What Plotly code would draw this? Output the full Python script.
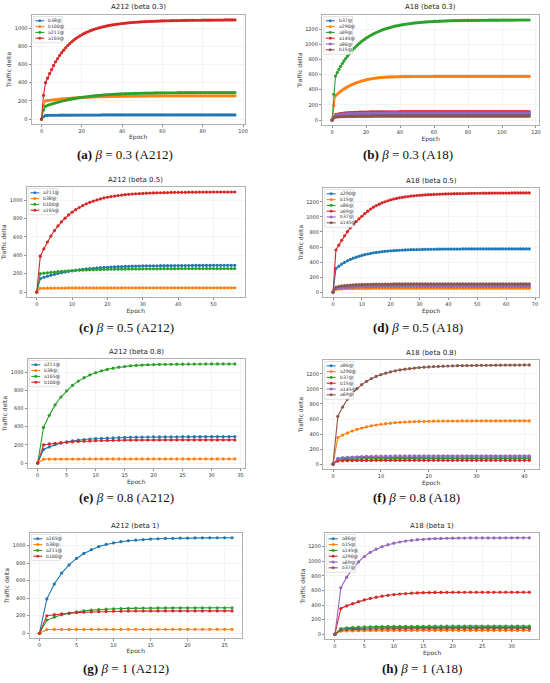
import plotly.graph_objects as go

W, H = 550, 683
COLORS = ['#1f77b4', '#ff7f0e', '#2ca02c', '#d62728', '#9467bd', '#8c564b']

# ---------------- Panel (a): A212, beta 0.3 ----------------
a_b38 = [0, 25, 40, 41, 41, 42, 42, 42, 42, 43,
         43, 43, 43, 43, 43, 43, 44, 44, 44, 44,
         44, 44, 44, 44, 44, 44, 44, 44, 44, 44,
         45, 45, 45, 45, 45, 45, 45, 45, 45, 45,
         45, 45, 45, 45, 45, 45, 45, 45, 45, 45,
         45, 45, 45, 45, 45, 45, 45, 45, 45, 45,
         45, 45, 45, 45, 45, 45, 45, 45, 45, 45,
         45, 45, 45, 45, 45, 45, 45, 45, 45, 45,
         45, 45, 45, 45, 45, 45, 45, 45, 45, 45,
         45, 45, 45, 45, 45, 45, 45]
a_b100 = [0, 150, 200, 203, 206, 209, 212, 214, 217, 219,
          221, 223, 225, 227, 229, 230, 232, 233, 235, 236,
          237, 238, 239, 240, 241, 242, 243, 244, 244, 245,
          246, 246, 247, 247, 248, 248, 249, 249, 250, 250,
          250, 251, 251, 251, 252, 252, 252, 252, 253, 253,
          253, 253, 253, 254, 254, 254, 254, 254, 254, 254,
          255, 255, 255, 255, 255, 255, 255, 255, 255, 255,
          255, 255, 255, 255, 255, 255, 255, 255, 255, 255,
          255, 255, 255, 255, 255, 255, 255, 255, 255, 255,
          255, 255, 255, 255, 255, 255, 255]
a_a211 = [0, 100, 140, 150, 158, 165, 172, 178, 184, 190,
          196, 201, 206, 211, 216, 220, 224, 228, 232, 236,
          239, 242, 245, 248, 251, 253, 256, 258, 260, 262,
          264, 266, 267, 269, 270, 272, 273, 274, 275, 276,
          277, 278, 279, 280, 281, 281, 282, 283, 283, 284,
          284, 285, 285, 286, 286, 286, 287, 287, 287, 288,
          288, 288, 288, 289, 289, 289, 289, 289, 290, 290,
          290, 290, 290, 290, 290, 290, 290, 290, 291, 291,
          291, 291, 291, 291, 291, 291, 291, 291, 291, 291,
          291, 291, 291, 291, 291, 291, 291]
a_a165 = [0, 260, 400, 450, 500, 545, 590, 630, 665, 700,
          730, 758, 784, 808, 830, 850, 868, 885, 900, 914,
          927, 939, 950, 960, 969, 978, 986, 993, 1000, 1006,
          1012, 1017, 1022, 1027, 1031, 1035, 1039, 1042, 1045, 1048,
          1051, 1053, 1056, 1058, 1060, 1062, 1064, 1065, 1067, 1068,
          1070, 1071, 1072, 1073, 1074, 1075, 1076, 1077, 1078, 1079,
          1079, 1080, 1081, 1081, 1082, 1082, 1083, 1083, 1084, 1084,
          1085, 1085, 1085, 1086, 1086, 1086, 1087, 1087, 1087, 1087,
          1088, 1088, 1088, 1088, 1088, 1089, 1089, 1089, 1089, 1089,
          1089, 1090, 1090, 1090, 1090, 1090, 1090]

# ---------------- Panel (b): A18, beta 0.3 ----------------
b_b37 = [0, 30, 52, 56, 59, 61, 63, 65, 66, 67,
         68, 69, 69, 70, 70, 71, 71, 72, 72, 72,
         73, 73, 73, 73, 74, 74, 74, 74, 74, 74,
         74, 74, 75, 75, 75, 75, 75, 75, 75, 75,
         75, 75, 75, 75, 75, 75, 75, 75, 75, 75,
         75, 75, 75, 75, 75, 75, 75, 75, 75, 75,
         75, 75, 75, 75, 75, 75, 75, 75, 75, 75,
         75, 75, 75, 75, 75, 75, 75, 75, 75, 75,
         75, 75, 75, 75, 75, 75, 75, 75, 75, 75,
         75, 75, 75, 75, 75, 75, 75, 75, 75, 75,
         75, 75, 75, 75, 75, 75, 75, 75, 75, 75,
         75, 75, 75, 75, 75, 75, 75]
b_a290 = [0, 190, 320, 340, 360, 378, 395, 410, 424, 437,
          449, 460, 470, 480, 489, 497, 505, 512, 518, 524,
          530, 535, 540, 544, 548, 551, 554, 557, 559, 561,
          563, 565, 566, 567, 568, 569, 570, 570, 571, 571,
          572, 572, 572, 573, 573, 573, 573, 574, 574, 574,
          574, 574, 574, 574, 574, 574, 574, 574, 574, 574,
          575, 575, 575, 575, 575, 575, 575, 575, 575, 575,
          575, 575, 575, 575, 575, 575, 575, 575, 575, 575,
          575, 575, 575, 575, 575, 575, 575, 575, 575, 575,
          575, 575, 575, 575, 575, 575, 575, 575, 575, 575,
          575, 575, 575, 575, 575, 575, 575, 575, 575, 575,
          575, 575, 575, 575, 575, 575, 575]
b_a69 = [0, 340, 580, 625, 668, 708, 746, 780, 812, 842,
         870, 897, 923, 947, 970, 991, 1011, 1030, 1048, 1064,
         1080, 1095, 1108, 1121, 1133, 1145, 1155, 1165, 1175, 1184,
         1192, 1200, 1207, 1214, 1220, 1226, 1232, 1238, 1243, 1247,
         1252, 1256, 1260, 1264, 1267, 1270, 1273, 1276, 1279, 1281,
         1284, 1286, 1288, 1290, 1292, 1294, 1295, 1297, 1298, 1299,
         1301, 1302, 1303, 1304, 1305, 1306, 1307, 1308, 1309, 1309,
         1310, 1311, 1311, 1312, 1312, 1313, 1313, 1314, 1314, 1314,
         1315, 1315, 1315, 1316, 1316, 1316, 1316, 1317, 1317, 1317,
         1317, 1317, 1318, 1318, 1318, 1318, 1318, 1318, 1318, 1319,
         1319, 1319, 1319, 1319, 1319, 1319, 1319, 1319, 1319, 1320,
         1320, 1320, 1320, 1320, 1320, 1320, 1320]
b_a145 = [0, 40, 70, 76, 81, 85, 88, 91, 93, 95,
          97, 98, 99, 100, 101, 102, 103, 103, 104, 104,
          105, 105, 106, 106, 106, 107, 107, 107, 107, 108,
          108, 108, 108, 108, 109, 109, 109, 109, 109, 109,
          110, 110, 110, 110, 110, 110, 110, 110, 110, 110,
          110, 110, 110, 110, 110, 110, 110, 110, 110, 110,
          110, 110, 110, 110, 110, 110, 110, 110, 110, 110,
          110, 110, 110, 110, 110, 110, 110, 110, 110, 110,
          110, 110, 110, 110, 110, 110, 110, 110, 110, 110,
          110, 110, 110, 110, 110, 110, 110, 110, 110, 110,
          110, 110, 110, 110, 110, 110, 110, 110, 110, 110,
          110, 110, 110, 110, 110, 110, 110]
b_a86 = [0, 35, 62, 67, 71, 74, 77, 79, 81, 83,
         84, 85, 86, 87, 87, 88, 88, 89, 89, 90,
         90, 90, 91, 91, 91, 91, 92, 92, 92, 92,
         92, 92, 92, 93, 93, 93, 93, 93, 93, 93,
         93, 93, 93, 93, 93, 93, 93, 93, 93, 93,
         93, 93, 93, 93, 93, 93, 93, 93, 93, 93,
         93, 93, 93, 93, 93, 93, 93, 93, 93, 93,
         93, 93, 93, 93, 93, 93, 93, 93, 93, 93,
         93, 93, 93, 93, 93, 93, 93, 93, 93, 93,
         93, 93, 93, 93, 93, 93, 93, 93, 93, 93,
         93, 93, 93, 93, 93, 93, 93, 93, 93, 93,
         93, 93, 93, 93, 93, 93, 93]
b_b15 = [0, 25, 38, 40, 42, 43, 44, 45, 45, 46,
         46, 47, 47, 47, 48, 48, 48, 48, 49, 49,
         49, 49, 49, 49, 49, 50, 50, 50, 50, 50,
         50, 50, 50, 50, 50, 50, 50, 50, 50, 50,
         50, 50, 50, 50, 50, 50, 50, 50, 50, 50,
         50, 50, 50, 50, 50, 50, 50, 50, 50, 50,
         50, 50, 50, 50, 50, 50, 50, 50, 50, 50,
         50, 50, 50, 50, 50, 50, 50, 50, 50, 50,
         50, 50, 50, 50, 50, 50, 50, 50, 50, 50,
         50, 50, 50, 50, 50, 50, 50, 50, 50, 50,
         50, 50, 50, 50, 50, 50, 50, 50, 50, 50,
         50, 50, 50, 50, 50, 50, 50]

# ---------------- Panel (c): A212, beta 0.5 ----------------
c_a211 = [0, 145, 160, 172, 183, 193, 202, 210, 218, 225,
          231, 237, 242, 247, 251, 255, 259, 262, 265, 268,
          270, 272, 274, 276, 277, 279, 280, 281, 282, 283,
          284, 285, 285, 286, 286, 287, 287, 288, 288, 288,
          289, 289, 289, 289, 290, 290, 290, 290, 290, 290,
          291, 291, 291, 291, 291, 291, 291]
c_b38 = [0, 40, 41, 42, 42, 43, 43, 43, 43, 44,
         44, 44, 44, 44, 44, 44, 44, 44, 44, 44,
         44, 44, 44, 44, 44, 45, 45, 45, 45, 45,
         45, 45, 45, 45, 45, 45, 45, 45, 45, 45,
         45, 45, 45, 45, 45, 45, 45, 45, 45, 45,
         45, 45, 45, 45, 45, 45, 45]
c_b100 = [0, 200, 205, 210, 214, 218, 222, 225, 228, 231,
          233, 235, 237, 239, 240, 242, 243, 244, 245, 246,
          247, 248, 248, 249, 250, 250, 251, 251, 252, 252,
          252, 253, 253, 253, 253, 254, 254, 254, 254, 254,
          254, 255, 255, 255, 255, 255, 255, 255, 255, 255,
          255, 255, 255, 255, 255, 255, 255]
c_a165 = [0, 390, 470, 545, 610, 670, 720, 765, 805, 840,
          870, 897, 921, 942, 961, 977, 991, 1004, 1015, 1025,
          1033, 1040, 1046, 1052, 1057, 1061, 1065, 1068, 1071, 1073,
          1075, 1077, 1079, 1080, 1081, 1082, 1083, 1084, 1085, 1086,
          1086, 1087, 1087, 1088, 1088, 1088, 1089, 1089, 1089, 1089,
          1090, 1090, 1090, 1090, 1090, 1090, 1090]

# ---------------- Panel (d): A18, beta 0.5 ----------------
d_a290 = [0, 315, 345, 372, 396, 417, 435, 451, 465, 477,
          488, 498, 507, 515, 522, 528, 533, 538, 542, 546,
          549, 552, 555, 557, 559, 561, 562, 564, 565, 566,
          567, 568, 569, 569, 570, 570, 571, 571, 572, 572,
          572, 573, 573, 573, 573, 574, 574, 574, 574, 574,
          574, 574, 575, 575, 575, 575, 575, 575, 575, 575,
          575, 575, 575, 575, 575, 575, 575, 575, 575]
d_b15 = [0, 35, 40, 42, 44, 45, 46, 46, 47, 47,
         48, 48, 48, 48, 49, 49, 49, 49, 49, 49,
         50, 50, 50, 50, 50, 50, 50, 50, 50, 50,
         50, 50, 50, 50, 50, 50, 50, 50, 50, 50,
         50, 50, 50, 50, 50, 50, 50, 50, 50, 50,
         50, 50, 50, 50, 50, 50, 50, 50, 50, 50,
         50, 50, 50, 50, 50, 50, 50, 50, 50]
d_a86 = [0, 55, 64, 69, 73, 77, 80, 82, 84, 85,
         86, 87, 88, 89, 89, 90, 90, 91, 91, 91,
         92, 92, 92, 92, 92, 93, 93, 93, 93, 93,
         93, 93, 93, 93, 93, 93, 93, 93, 93, 93,
         93, 93, 93, 93, 93, 93, 93, 93, 93, 93,
         93, 93, 93, 93, 93, 93, 93, 93, 93, 93,
         93, 93, 93, 93, 93, 93, 93, 93, 93]
d_a69 = [0, 560, 625, 690, 750, 805, 855, 900, 940, 975,
         1010, 1045, 1077, 1105, 1130, 1152, 1171, 1188, 1203, 1216,
         1228, 1238, 1247, 1255, 1262, 1268, 1273, 1278, 1282, 1286,
         1289, 1292, 1295, 1297, 1299, 1301, 1303, 1304, 1306, 1307,
         1308, 1309, 1310, 1311, 1312, 1313, 1313, 1314, 1315, 1315,
         1316, 1316, 1317, 1317, 1317, 1318, 1318, 1318, 1319, 1319,
         1319, 1319, 1320, 1320, 1320, 1320, 1320, 1320, 1320]
d_b37 = [0, 45, 52, 56, 59, 62, 64, 66, 67, 68,
         69, 70, 70, 71, 71, 72, 72, 72, 73, 73,
         73, 73, 74, 74, 74, 74, 74, 74, 75, 75,
         75, 75, 75, 75, 75, 75, 75, 75, 75, 75,
         75, 75, 75, 75, 75, 75, 75, 75, 75, 75,
         75, 75, 75, 75, 75, 75, 75, 75, 75, 75,
         75, 75, 75, 75, 75, 75, 75, 75, 75]
d_a145 = [0, 65, 75, 81, 86, 90, 93, 96, 98, 100,
          101, 102, 103, 104, 105, 105, 106, 106, 107, 107,
          107, 108, 108, 108, 108, 109, 109, 109, 109, 109,
          109, 109, 110, 110, 110, 110, 110, 110, 110, 110,
          110, 110, 110, 110, 110, 110, 110, 110, 110, 110,
          110, 110, 110, 110, 110, 110, 110, 110, 110, 110,
          110, 110, 110, 110, 110, 110, 110, 110, 110]

# ---------------- Panel (e): A212, beta 0.8 ----------------
e_a211 = [0, 150, 178, 203, 220, 233, 244, 252, 259, 264,
          268, 272, 275, 278, 280, 282, 284, 285, 286, 287,
          288, 288, 289, 289, 289, 290, 290, 290, 290, 290,
          291, 291, 291, 291, 291]
e_b38 = [0, 42, 43, 43, 44, 44, 44, 44, 45, 45,
         45, 45, 45, 45, 45, 45, 45, 45, 45, 45,
         45, 45, 45, 45, 45, 45, 45, 45, 45, 45,
         45, 45, 45, 45, 45]
e_a165 = [0, 392, 525, 640, 727, 795, 855, 902, 940, 970,
          995, 1015, 1031, 1044, 1055, 1063, 1070, 1075, 1079, 1082,
          1084, 1086, 1087, 1088, 1089, 1089, 1090, 1090, 1090, 1091,
          1091, 1091, 1091, 1091, 1091]
e_b100 = [0, 200, 210, 218, 224, 229, 234, 238, 241, 244,
          246, 248, 249, 250, 251, 252, 253, 253, 254, 254,
          254, 255, 255, 255, 255, 255, 255, 255, 255, 255,
          255, 255, 255, 255, 255]

# ---------------- Panel (f): A18, beta 0.8 ----------------
f_a86 = [0, 65, 73, 78, 81, 84, 86, 87, 88, 89,
         90, 90, 91, 91, 91, 92, 92, 92, 92, 92,
         93, 93, 93, 93, 93, 93, 93, 93, 93, 93,
         93, 93, 93, 93, 93, 93, 93, 93, 93, 93,
         93, 93]
f_a290 = [0, 352, 386, 415, 440, 462, 480, 496, 509, 520,
          530, 538, 545, 551, 556, 560, 563, 566, 568, 569,
          570, 571, 572, 572, 573, 573, 573, 574, 574, 574,
          574, 574, 575, 575, 575, 575, 575, 575, 575, 575,
          575, 575]
f_b37 = [0, 52, 59, 63, 66, 68, 69, 70, 71, 72,
         72, 73, 73, 73, 74, 74, 74, 74, 74, 74,
         75, 75, 75, 75, 75, 75, 75, 75, 75, 75,
         75, 75, 75, 75, 75, 75, 75, 75, 75, 75,
         75, 75]
f_b15 = [0, 40, 43, 45, 46, 47, 48, 48, 48, 49,
         49, 49, 49, 49, 49, 50, 50, 50, 50, 50,
         50, 50, 50, 50, 50, 50, 50, 50, 50, 50,
         50, 50, 50, 50, 50, 50, 50, 50, 50, 50,
         50, 50]
f_a145 = [0, 75, 85, 90, 94, 97, 100, 102, 104, 105,
          106, 107, 107, 108, 108, 108, 109, 109, 109, 109,
          109, 110, 110, 110, 110, 110, 110, 110, 110, 110,
          110, 110, 110, 110, 110, 110, 110, 110, 110, 110,
          110, 110]
f_a69 = [0, 635, 760, 862, 942, 1005, 1058, 1102, 1138, 1167,
         1191, 1211, 1228, 1242, 1254, 1264, 1272, 1279, 1285, 1290,
         1294, 1298, 1301, 1304, 1306, 1308, 1310, 1311, 1312, 1313,
         1314, 1315, 1316, 1316, 1317, 1317, 1318, 1318, 1319, 1319,
         1320, 1320]

# ---------------- Panel (g): A212, beta 1 ----------------
g_a165 = [0, 392, 562, 687, 781, 855, 912, 955, 990, 1015,
          1032, 1046, 1057, 1065, 1071, 1076, 1080, 1083, 1085, 1087,
          1088, 1089, 1090, 1090, 1091, 1091, 1091]
g_b38 = [0, 42, 43, 43, 44, 44, 44, 45, 45, 45,
         45, 45, 45, 45, 45, 45, 45, 45, 45, 45,
         45, 45, 45, 45, 45, 45, 45]
g_a211 = [0, 150, 183, 210, 228, 243, 255, 264, 270, 275,
          279, 282, 284, 286, 287, 288, 289, 289, 290, 290,
          290, 290, 291, 291, 291, 291, 291]
g_b100 = [0, 200, 212, 222, 230, 236, 240, 244, 247, 249,
          251, 252, 253, 254, 254, 255, 255, 255, 255, 255,
          255, 255, 255, 255, 255, 255, 255]

# ---------------- Panel (h): A18, beta 1 ----------------
h_a86 = [0, 68, 76, 80, 83, 86, 87, 88, 89, 90,
         91, 91, 92, 92, 92, 93, 93, 93, 93, 93,
         93, 93, 93, 93, 93, 93, 93, 93, 93, 93,
         93, 93, 93, 93]
h_b15 = [0, 42, 45, 46, 47, 48, 49, 49, 49, 50,
         50, 50, 50, 50, 50, 50, 50, 50, 50, 50,
         50, 50, 50, 50, 50, 50, 50, 50, 50, 50,
         50, 50, 50, 50]
h_a145 = [0, 78, 88, 93, 97, 100, 102, 104, 105, 106,
          107, 108, 108, 109, 109, 109, 110, 110, 110, 110,
          110, 110, 110, 110, 110, 110, 110, 110, 110, 110,
          110, 110, 110, 110]
h_a290 = [0, 352, 388, 418, 446, 470, 490, 507, 521, 533,
          543, 551, 557, 562, 566, 569, 571, 572, 573, 574,
          574, 575, 575, 575, 575, 575, 575, 575, 575, 575,
          575, 575, 575, 575]
h_a69 = [0, 636, 782, 895, 990, 1065, 1122, 1166, 1200, 1227,
         1248, 1264, 1277, 1287, 1295, 1301, 1306, 1310, 1313, 1315,
         1316, 1317, 1318, 1319, 1319, 1320, 1320, 1320, 1320, 1321,
         1321, 1321, 1321, 1321]
h_b37 = [0, 55, 61, 65, 68, 70, 71, 72, 73, 73,
         74, 74, 74, 75, 75, 75, 75, 75, 75, 75,
         75, 75, 75, 75, 75, 75, 75, 75, 75, 75,
         75, 75, 75, 75]

# ---------------- Panel definitions ----------------
titles = ['A212 (beta 0.3)', 'A18 (beta 0.3)', 'A212 (beta 0.5)', 'A18 (beta 0.5)',
          'A212 (beta 0.8)', 'A18 (beta 0.8)', 'A212 (beta 1)', 'A18 (beta 1)']
captions = ['<b>(a)</b> <i>β</i> = 0.3 (A212)', '<b>(b)</b> <i>β</i> = 0.3 (A18)',
            '<b>(c)</b> <i>β</i> = 0.5 (A212)', '<b>(d)</b> <i>β</i> = 0.5 (A18)',
            '<b>(e)</b> <i>β</i> = 0.8 (A212)', '<b>(f)</b> <i>β</i> = 0.8 (A18)',
            '<b>(g)</b> <i>β</i> = 1 (A212)', '<b>(h)</b> <i>β</i> = 1 (A18)']
legend_names = [
    ['b38@', 'b100@', 'a211@', 'a165@'],
    ['b37@', 'a290@', 'a69@', 'a145@', 'a86@', 'b15@'],
    ['a211@', 'b38@', 'b100@', 'a165@'],
    ['a290@', 'b15@', 'a86@', 'a69@', 'b37@', 'a145@'],
    ['a211@', 'b38@', 'a165@', 'b100@'],
    ['a86@', 'a290@', 'b37@', 'b15@', 'a145@', 'a69@'],
    ['a165@', 'b38@', 'a211@', 'b100@'],
    ['a86@', 'b15@', 'a145@', 'a290@', 'a69@', 'b37@'],
]
series = [
    [a_b38, a_b100, a_a211, a_a165],
    [b_b37, b_a290, b_a69, b_a145, b_a86, b_b15],
    [c_a211, c_b38, c_b100, c_a165],
    [d_a290, d_b15, d_a86, d_a69, d_b37, d_a145],
    [e_a211, e_b38, e_a165, e_b100],
    [f_a86, f_a290, f_b37, f_b15, f_a145, f_a69],
    [g_a165, g_b38, g_a211, g_b100],
    [h_a86, h_b15, h_a145, h_a290, h_a69, h_b37],
]
x_dticks = [20, 20, 10, 10, 5, 10, 5, 5]

# plot-area boxes in pixels (left, right, top, bottom) and caption centre
boxes = [(32, 246, 15, 124), (324, 542, 15, 125),
         (27, 246, 187, 297), (325, 542, 188, 297),
         (28, 246, 359, 468), (325, 542, 360, 469),
         (30, 243, 533, 638), (327, 542, 533, 639)]
cap_pos = [(126, 155), (410, 155), (127, 327), (420, 327),
           (127, 497), (419, 497), (127, 668), (424, 668)]


def px(xp):
    return xp / W


def py(yp):
    return 1 - yp / H


fig = go.Figure()
annotations = []
shapes = []
layout = dict(width=W, height=H, margin=dict(l=0, r=0, t=0, b=0),
              paper_bgcolor='white', plot_bgcolor='white', showlegend=False,
              hovermode=False)

LEG_STEP = 5.8
for i in range(8):
    k = i + 1
    ax = '' if k == 1 else str(k)
    l, r, t, b = boxes[i]
    n_last = 0
    y_max = 0
    for j, (nm, ys) in enumerate(zip(legend_names[i], series[i])):
        xs = list(range(len(ys)))
        n_last = max(n_last, len(ys) - 1)
        y_max = max(y_max, max(ys))
        fig.add_trace(go.Scatter(
            x=xs, y=ys, name=nm, mode='lines+markers',
            line=dict(color=COLORS[j], width=1.1),
            marker=dict(color=COLORS[j], size=3.2),
            xaxis='x' + ax, yaxis='y' + ax))
    xr = [-0.05 * n_last, n_last * 1.05]
    yr = [-0.05 * y_max, y_max * 1.05]
    common = dict(showline=True, mirror=True, linecolor='#b0b0b0', linewidth=1.3,
                  showgrid=True, gridcolor='#ececec', gridwidth=0.6,
                  zeroline=False, ticks='outside', ticklen=2, tickwidth=0.6,
                  tickcolor='#444', ticklabeloverflow='allow',
                  tickfont=dict(size=5, color='#333', family='DejaVu Sans'))
    layout['xaxis' + ax] = dict(common, domain=[px(l), px(r)], range=xr,
                                dtick=x_dticks[i], tick0=0, anchor='y' + ax,
                                title=dict(text='Epoch', standoff=1,
                                           font=dict(size=6, color='#333', family='DejaVu Sans')))
    layout['yaxis' + ax] = dict(common, domain=[py(b), py(t)], range=yr,
                                dtick=200, tick0=0, anchor='x' + ax,
                                title=dict(text='Traffic delta', standoff=2,
                                           font=dict(size=6, color='#333', family='DejaVu Sans')))
    # custom compact legend (matplotlib-like), upper-left inside the axes
    n = len(legend_names[i])
    bx0, by0 = l + 1.5, t + 1.5
    bx1, by1 = bx0 + 29, by0 + 3 + n * LEG_STEP
    shapes.append(dict(type='rect', xref='paper', yref='paper',
                       x0=px(bx0), x1=px(bx1), y0=py(by1), y1=py(by0),
                       line=dict(color='#cfcfcf', width=0.6),
                       fillcolor='rgba(255,255,255,0.85)', layer='above'))
    for j, nm in enumerate(legend_names[i]):
        yc = by0 + 4.3 + j * LEG_STEP
        shapes.append(dict(type='line', xref='paper', yref='paper',
                           x0=px(bx0 + 2), x1=px(bx0 + 11), y0=py(yc), y1=py(yc),
                           line=dict(color=COLORS[j], width=1.1), layer='above'))
        shapes.append(dict(type='circle', xref='paper', yref='paper',
                           x0=px(bx0 + 5.2), x1=px(bx0 + 7.8),
                           y0=py(yc + 1.3), y1=py(yc - 1.3),
                           line=dict(color=COLORS[j], width=0.3),
                           fillcolor=COLORS[j], layer='above'))
        annotations.append(dict(text=nm, x=px(bx0 + 13), y=py(yc), xref='paper', yref='paper',
                                xanchor='left', yanchor='middle', showarrow=False,
                                font=dict(size=4.6, color='#333', family='DejaVu Sans')))
    annotations.append(dict(
        text=titles[i], x=px((l + r) / 2), y=py(t - 1.5), xref='paper', yref='paper',
        xanchor='center', yanchor='bottom', showarrow=False,
        font=dict(size=7, color='#222', family='DejaVu Sans')))
    cx, cy = cap_pos[i]
    annotations.append(dict(
        text=captions[i], x=px(cx), y=py(cy), xref='paper', yref='paper',
        xanchor='center', yanchor='middle', showarrow=False,
        font=dict(size=13, color='#111', family='Liberation Serif')))

layout['annotations'] = annotations
layout['shapes'] = shapes
fig.update_layout(**layout)
fig.write_html('out.html', config={'displayModeBar': False, 'staticPlot': True},
               post_script="document.body.style.margin='0px';document.body.style.overflow='hidden';")
